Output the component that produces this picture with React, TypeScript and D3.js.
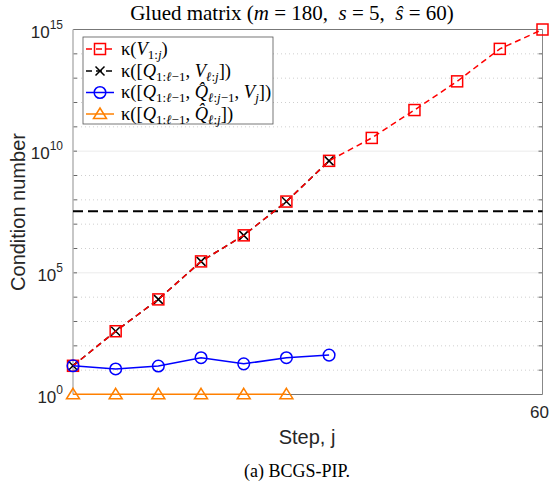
import React from "react";
import * as d3 from "d3";

const steps = [5, 10, 15, 20, 25, 30, 35, 40, 45, 50, 55, 60];
const kappaV = [15.1, 398, 8.1e3, 2.95e5, 3.47e6, 8.5e7, 4.0e9, 3.5e10, 4.9e11, 7.4e12, 1.6e14, 1.0e15];
const kappaQV = [15.1, 398, 8.1e3, 2.95e5, 3.47e6, 8.5e7, 4.0e9];
const kappaQQV = [15.1, 11.2, 14.8, 32.4, 18.2, 32.4, 41.7];
const kappaQQ = [1.02, 1.02, 1.02, 1.02, 1.02, 1.02];
const threshold = [3.4e7];
const yTickExps = [0, 5, 10, 15];
const xTicks = [60];

const W = 551, H = 484;
const L = 73, R = 542.5, T = 29.5, B = 394.5;

export default function App() {
  const x = d3.scaleLinear().domain([5, 60]).range([L, R]);
  const y = d3.scaleLog().domain([1, 1e15]).range([B, T]);
  const line = d3.line<[number, number]>().x(d => x(d[0])).y(d => y(d[1]));
  const pts = (vals: number[]) => vals.map((v, i) => [steps[i], v] as [number, number]);

  const red = "#FF0000", blue = "#0000FF", orange = "#FF8000";
  const decades = d3.range(1, 15);

  const sq = (cx: number, cy: number, k: number) => (
    <rect key={k} x={cx - 5.5} y={cy - 5.5} width={11} height={11} fill="none" stroke={red} strokeWidth={1.5} />
  );
  const xm = (cx: number, cy: number, k: number) => (
    <path key={k} d={`M${cx - 4.5},${cy - 4.5}L${cx + 4.5},${cy + 4.5}M${cx - 4.5},${cy + 4.5}L${cx + 4.5},${cy - 4.5}`} stroke="#000" strokeWidth={1.5} />
  );
  const circ = (cx: number, cy: number, k: number) => (
    <circle key={k} cx={cx} cy={cy} r={5.8} fill="none" stroke={blue} strokeWidth={1.5} />
  );
  const tri = (cx: number, cy: number, k: number) => (
    <path key={k} d={`M${cx},${cy - 6}L${cx + 6.5},${cy + 4.5}L${cx - 6.5},${cy + 4.5}Z`} fill="none" stroke={orange} strokeWidth={1.5} />
  );

  const serif = "'Liberation Serif', 'Times New Roman', serif";
  const sans = "'Liberation Sans', Arial, Helvetica, sans-serif";
  const sub = (t: React.ReactNode) => <tspan fontSize={13} baselineShift="-28%">{t}</tspan>;
  const it = (t: string) => <tspan fontStyle="italic">{t}</tspan>;

  const legendItems = [
    { color: red, dash: "6,4", marker: sq },
    { color: "#000", dash: "6,4", marker: xm },
    { color: blue, dash: "", marker: circ },
    { color: orange, dash: "", marker: tri },
  ];
  const legendTexts = [
    <>κ({it("V")}{sub(<>1:{it("j")}</>)})</>,
    <>κ([{it("Q")}{sub(<>1:{it("ℓ")}−1</>)}, {it("V")}{sub(<>{it("ℓ")}:{it("j")}</>)}])</>,
    <>κ([{it("Q")}{sub(<>1:{it("ℓ")}−1</>)}, {it("Q\u0302")}{sub(<>{it("ℓ")}:{it("j")}−1</>)}, {it("V")}{sub(it("j"))}])</>,
    <>κ([{it("Q")}{sub(<>1:{it("ℓ")}−1</>)}, {it("Q\u0302")}{sub(<>{it("ℓ")}:{it("j")}</>)}])</>,
  ];
  const legY = [49, 71, 92.5, 114];

  return (
    <svg width={W} height={H} style={{ position: "absolute", left: 0, top: 0, background: "#fff" }}>
      <rect width={W} height={H} fill="#fff" />
      {/* grid */}
      {decades.map(e => (
        <line key={e} x1={L} x2={R} y1={y(Math.pow(10, e))} y2={y(Math.pow(10, e))}
          stroke={e % 5 === 0 ? "#ebebeb" : "#cfcfcf"} strokeWidth={1}
          strokeDasharray={e % 5 === 0 ? "" : "1,3"} />
      ))}
      {/* minor ticks */}
      {decades.map(e => (
        <g key={"t" + e}>
          <line x1={L} x2={L + 4} y1={y(Math.pow(10, e))} y2={y(Math.pow(10, e))} stroke="#666" />
          <line x1={R} x2={R - 4} y1={y(Math.pow(10, e))} y2={y(Math.pow(10, e))} stroke="#666" />
        </g>
      ))}
      {/* axes box */}
      <line x1={L} x2={R} y1={T} y2={T} stroke="#777" />
      <line x1={R} x2={R} y1={T} y2={B} stroke="#888" />
      <line x1={L} x2={R} y1={B} y2={B} stroke="#777" />
      <line x1={L} x2={L} y1={T} y2={B} stroke="#b5b5b5" strokeWidth={1.5} />

      {/* threshold */}
      {threshold.map((v, i) => (
        <line key={i} x1={L} x2={R} y1={y(v)} y2={y(v)} stroke="#000" strokeWidth={2} strokeDasharray="10,5" />
      ))}

      {/* black series */}
      <path d={line(pts(kappaQV)) || ""} fill="none" stroke="#000" strokeWidth={1.5} strokeDasharray="6,4" />
      {pts(kappaQV).map((p, i) => xm(x(p[0]), y(p[1]), i))}
      {/* red series */}
      <path d={line(pts(kappaV)) || ""} fill="none" stroke={red} strokeWidth={1.5} strokeDasharray="6,4" />
      {pts(kappaV).map((p, i) => sq(x(p[0]), y(p[1]), i))}
      {/* blue */}
      <path d={line(pts(kappaQQV)) || ""} fill="none" stroke={blue} strokeWidth={1.5} />
      {pts(kappaQQV).map((p, i) => circ(x(p[0]), y(p[1]), i))}
      {/* orange */}
      <path d={line(pts(kappaQQ)) || ""} fill="none" stroke={orange} strokeWidth={1.5} />
      {pts(kappaQQ).map((p, i) => tri(x(p[0]), y(p[1]), i))}

      {/* y tick labels */}
      {yTickExps.map(e => (
        <text key={e} x={L - 10} y={y(Math.pow(10, e)) + 8} textAnchor="end" fontFamily={sans} fontSize={17} fill="#262626">
          10<tspan fontSize={12} dy={-9}>{e}</tspan>
        </text>
      ))}
      {/* x tick labels */}
      {xTicks.map(t => (
        <text key={t} x={x(t) - 3} y={B + 23} textAnchor="middle" fontFamily={sans} fontSize={17} fill="#262626">{t}</text>
      ))}

      {/* axis labels */}
      <text transform={`translate(25,212) rotate(-90)`} textAnchor="middle" fontFamily={sans} fontSize={20} fill="#262626">Condition number</text>
      <text x={307} y={444} textAnchor="middle" fontFamily={sans} fontSize={20} fill="#262626">Step, j</text>

      {/* title */}
      <text x={292} y={20} textAnchor="middle" fontFamily={serif} fontSize={21} fill="#000" xmlSpace="preserve">
        Glued matrix ({it("m")} = 180,  {it("s")} = 5,  {it("ŝ")} = 60)
      </text>

      {/* legend */}
      <rect x={83} y={37} width={190} height={87} fill="#fff" stroke="#555" strokeWidth={0.8} />
      {legendItems.map((li, i) => (
        <g key={i}>
          <line x1={86} x2={114} y1={legY[i]} y2={legY[i]} stroke={li.color} strokeWidth={1.5} strokeDasharray={li.dash} />
          {li.marker(100, legY[i], i)}
          <text x={121} y={legY[i] + 5.5} fontFamily={serif} fontSize={18.5} fill="#000">{legendTexts[i]}</text>
        </g>
      ))}

      {/* caption */}
      <text x={297} y={477} textAnchor="middle" fontFamily={serif} fontSize={18} fill="#000">(a) BCGS-PIP.</text>
    </svg>
  );
}
